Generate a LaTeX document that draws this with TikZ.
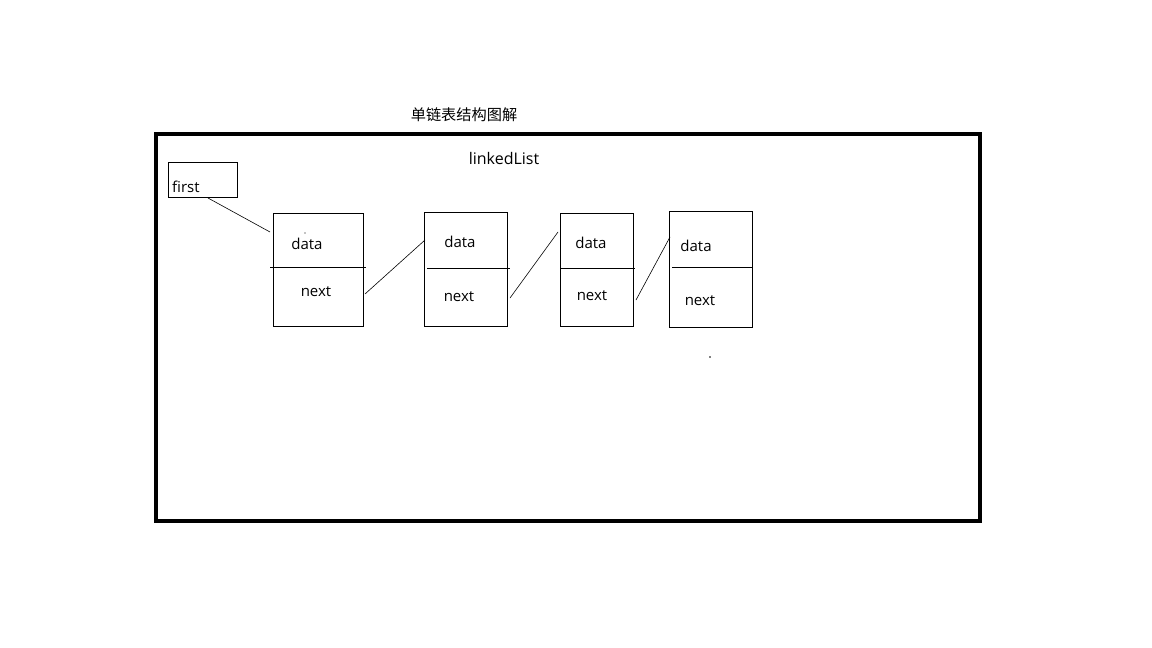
\documentclass[tikz,border=0pt]{standalone}
\usepackage{fontspec}
\setmainfont{Open Sans}
\newfontfamily\cjk{Noto Sans CJK SC}
\begin{document}
\begin{tikzpicture}[x=1pt,y=-1pt,
  box/.style={draw,line width=0.8pt,inner sep=0pt},
  lbl/.style={font=\fontsize{15}{17}\selectfont,inner sep=0pt},
  link/.style={line width=0.6pt}]
\useasboundingbox (0,0) rectangle (1152,648);
\fill[white] (0,0) rectangle (1152,648);
% frame
\node[draw,line width=4pt,inner sep=0pt,minimum width=824pt,minimum height=387pt] (frame) at (568,327.5) {};
\node[lbl,font=\cjk\fontsize{15.2}{17}\selectfont] (title) at (464,115) {单链表结构图解};
\node[lbl,font=\fontsize{16}{18}\selectfont] (ll) at (504,158) {linkedList};
% first
\node[box,minimum width=69pt,minimum height=35pt] (first) at (202.5,179.5) {};
\node[lbl,anchor=west] (firstt) at (172,187) {first};
% nodes
\node[box,minimum width=90pt,minimum height=113pt] (n1) at (318,269.5) {};
\node[box,minimum width=83pt,minimum height=114pt] (n2) at (465.5,269) {};
\node[box,minimum width=73pt,minimum height=113pt] (n3) at (596.5,269.5) {};
\node[box,minimum width=83pt,minimum height=116pt] (n4) at (710.5,269) {};
% dividers
\coordinate (d1a) at (270,267); \coordinate (d1b) at (366,267);
\coordinate (d2a) at (427,268); \coordinate (d2b) at (510,268);
\coordinate (d3a) at (560,268); \coordinate (d3b) at (635,268);
\coordinate (d4a) at (672,267); \coordinate (d4b) at (753,267);
\draw[line width=0.8pt] (d1a) -- (d1b);
\draw[line width=0.8pt] (d2a) -- (d2b);
\draw[line width=0.8pt] (d3a) -- (d3b);
\draw[line width=0.8pt] (d4a) -- (d4b);
% labels
\node[lbl] (da1) at (307,244) {data};
\node[lbl] (ne1) at (316,292) {next};
\node[lbl] (da2) at (460,242) {data};
\node[lbl] (ne2) at (459,297) {next};
\node[lbl] (da3) at (591,243) {data};
\node[lbl] (ne3) at (592,296) {next};
\node[lbl] (da4) at (696,246) {data};
\node[lbl] (ne4) at (700,301) {next};
% dots
\fill (305,233) circle (0.7pt);
\fill (710,357) circle (0.8pt);
% connectors
\coordinate (c0a) at (208,198); \coordinate (c0b) at (270,232);
\coordinate (c1a) at (365,294); \coordinate (c1b) at (425,240);
\coordinate (c2a) at (510,298); \coordinate (c2b) at (558,232);
\coordinate (c3a) at (636,300); \coordinate (c3b) at (670,237);
\draw[link] (c0a) -- (c0b);
\draw[link] (c1a) -- (c1b);
\draw[link] (c2a) -- (c2b);
\draw[link] (c3a) -- (c3b);
\end{tikzpicture}
\end{document}
